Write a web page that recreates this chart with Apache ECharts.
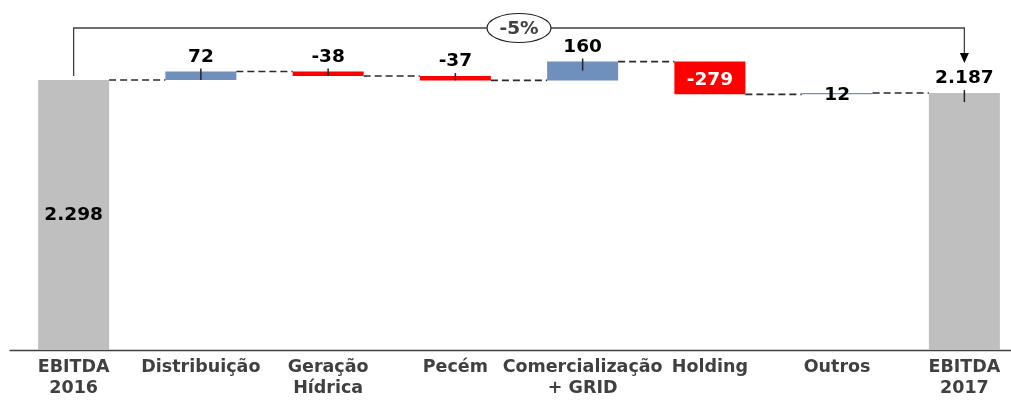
<!DOCTYPE html>
<html lang="pt">
<head>
<meta charset="UTF-8">
<title>EBITDA 2016 - 2017</title>
<script src="https://cdn.jsdelivr.net/npm/echarts@6/dist/echarts.min.js"></script>
</head>
<body style="margin:0;background:#fff">
<div id="main" style="width:1011px;height:404px;"></div>
<script>
// categorias e variações (R$ milhões)
var categories = ['EBITDA\n2016', 'Distribuição', 'Geração\nHídrica', 'Pecém', 'Comercialização\n+ GRID', 'Holding', 'Outros', 'EBITDA\n2017'];
var changes = [2298, 72, -38, -37, 160, -279, 12, 2187];
var totalLabel = '-5%';
// barras com rótulo dentro (o resto fica em cima, com tracinho)
var insideLabel = [0, 5, 6];

var n = categories.length;
var bases = [], heights = [], levels = [];
var run = 0;
changes.forEach(function (v, i) {
    if (i === 0 || i === n - 1) {
        bases.push(0); heights.push(v); run = v;
    } else if (v >= 0) {
        bases.push(run); heights.push(v); run += v;
    } else {
        run += v; bases.push(run); heights.push(-v);
    }
    levels.push(run);
});

function fmt(v) {
    return String(v).replace(/\B(?=(\d{3})+(?!\d))/g, '.');
}

var FONT = 'DejaVu Sans';
var BAR_W = 71;

var option = {
    animation: false,
    backgroundColor: '#fff',
    grid: { left: 10, top: 20, width: 1018, height: 330, outerBoundsMode: 'none', containLabel: false },
    xAxis: {
        type: 'category',
        data: categories,
        axisLine: { lineStyle: { color: '#404040', width: 1.3 } },
        axisTick: { show: false },
        axisLabel: {
            interval: 0,
            margin: 7,
            color: '#404040',
            fontFamily: FONT,
            fontWeight: 'bold',
            fontSize: 17.5,
            lineHeight: 21
        }
    },
    yAxis: { type: 'value', min: 0, max: 2809, show: false },
    series: [
        {
            name: 'base',
            type: 'bar',
            stack: 'wf',
            barWidth: BAR_W,
            itemStyle: { color: 'transparent' },
            silent: true,
            data: bases
        },
        {
            name: 'valor',
            type: 'bar',
            stack: 'wf',
            barWidth: BAR_W,
            data: heights.map(function (h, i) {
                var v = changes[i];
                var total = i === 0 || i === n - 1;
                var inside = insideLabel.indexOf(i) >= 0;
                return {
                    value: h,
                    itemStyle: { color: total ? '#BFBFBF' : (v < 0 ? '#FF0000' : '#6F8FBC') },
                    label: {
                        show: true,
                        position: inside ? 'inside' : 'top',
                        distance: 5,
                        offset: (i === 5 || i === 6) ? [0, 2] : [0, 0],
                        color: (i === 5) ? '#fff' : '#000',
                        fontFamily: FONT,
                        fontWeight: 'bold',
                        fontSize: 18.5,
                        formatter: fmt(v)
                    }
                };
            })
        },
        {
            // linhas tracejadas, tracinhos dos rótulos e a chave de -5%
            type: 'custom',
            clip: false,
            z: 5,
            silent: true,
            data: categories.map(function (c, i) { return [i]; }),
            renderItem: function (params, api) {
                var i = api.value(0);
                var half = BAR_W / 2;
                var kids = [];
                if (i < n - 1) {
                    var a = api.coord([i, levels[i]]);
                    var b = api.coord([i + 1, levels[i]]);
                    kids.push({
                        type: 'line',
                        shape: { x1: a[0] + half, y1: a[1], x2: b[0] - half, y2: b[1] },
                        style: { stroke: '#2a2a2a', lineWidth: 1.6, lineDash: [7, 4] }
                    });
                }
                if (insideLabel.indexOf(i) < 0) {
                    var top = api.coord([i, bases[i] + heights[i]]);
                    var bot = api.coord([i, bases[i]]);
                    kids.push({
                        type: 'line',
                        shape: { x1: top[0], y1: top[1] - 3, x2: top[0], y2: Math.min(top[1] + 9, bot[1]) },
                        style: { stroke: '#222', lineWidth: 1.5 }
                    });
                }
                if (i === 0) {
                    var s = api.coord([0, changes[0]]);
                    var e = api.coord([n - 1, changes[n - 1]]);
                    var ty = params.coordSys.y + 8;
                    var cx = (s[0] + e[0]) / 2;
                    kids.push({
                        type: 'polyline',
                        shape: { points: [[s[0], s[1] - 4], [s[0], ty], [e[0], ty], [e[0], e[1] - 40]] },
                        style: { stroke: '#404040', lineWidth: 1.3, fill: null }
                    });
                    kids.push({
                        type: 'polygon',
                        shape: { points: [[e[0] - 4.5, e[1] - 40], [e[0] + 4.5, e[1] - 40], [e[0], e[1] - 30]] },
                        style: { fill: '#000' }
                    });
                    kids.push({
                        type: 'ellipse',
                        shape: { cx: cx, cy: ty, rx: 32, ry: 14.5 },
                        style: { fill: '#fff', stroke: '#222', lineWidth: 1.2 }
                    });
                    kids.push({
                        type: 'text',
                        style: {
                            text: totalLabel, x: cx, y: ty + 1,
                            align: 'center', verticalAlign: 'middle',
                            fontFamily: FONT, fontWeight: 'bold', fontSize: 18.5,
                            fill: '#404040'
                        }
                    });
                }
                return { type: 'group', children: kids };
            }
        }
    ]
};

var myChart = echarts.init(document.getElementById('main'));
myChart.setOption(option);
</script>
</body>
</html>
